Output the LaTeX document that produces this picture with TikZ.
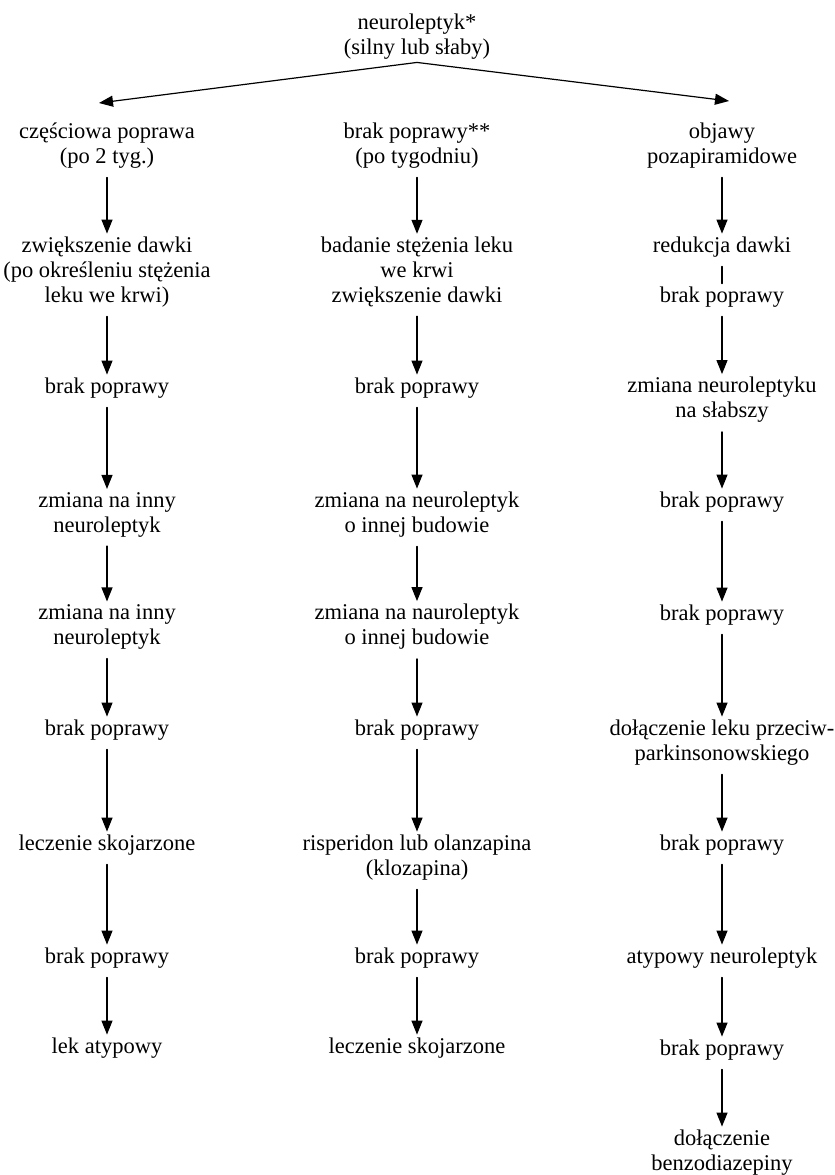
\documentclass[tikz,border=0pt]{standalone}
\usepackage{fontspec}
\setmainfont{Liberation Serif}
\usetikzlibrary{arrows.meta}
\begin{document}
\begin{tikzpicture}[x=1pt, y=-1pt, line cap=round, line join=round,
  txt/.style={align=center, inner xsep=2pt, inner ysep=3pt, font=\fontsize{22.5}{25}\selectfont},
  arr/.style={-{Triangle[width=11pt,length=14pt]}, line width=1.2pt, shorten <=6pt},
  bar/.style={line width=1.2pt, shorten <=6pt}]
  \useasboundingbox (0,0) rectangle (835,1175);
  \node[txt] (top) at (417,36.5) {neuroleptyk*\\(silny lub słaby)};
  \coordinate (apex) at (top.south);
  \coordinate (tipL) at (99,103);
  \coordinate (tipR) at (729,101);
  \draw[arr, shorten <=0pt] (apex) -- (tipL);
  \draw[arr, shorten <=0pt] (apex) -- (tipR);

  \node[txt] (l1) at (107,145.5) {częściowa poprawa\\(po 2 tyg.)};
  \node[txt] (l2) at (107,272) {zwiększenie dawki\\(po określeniu stężenia\\leku we krwi)};
  \node[txt] (l3) at (107,388) {brak poprawy};
  \node[txt] (l4) at (107,514.5) {zmiana na inny\\neuroleptyk};
  \node[txt] (l5) at (107,627) {zmiana na inny\\neuroleptyk};
  \node[txt] (l6) at (107,730) {brak poprawy};
  \node[txt] (l7) at (107,845) {leczenie skojarzone};
  \node[txt] (l8) at (107,958) {brak poprawy};
  \node[txt] (l9) at (107,1048) {lek atypowy};

  \node[txt] (m1) at (417,145.5) {brak poprawy**\\(po tygodniu)};
  \node[txt] (m2) at (417,272) {badanie stężenia leku\\we krwi\\zwiększenie dawki};
  \node[txt] (m3) at (417,388) {brak poprawy};
  \node[txt] (m4) at (417,514.5) {zmiana na neuroleptyk\\o innej budowie};
  \node[txt] (m5) at (417,627) {zmiana na nauroleptyk\\o innej budowie};
  \node[txt] (m6) at (417,730) {brak poprawy};
  \node[txt] (m7) at (417,857.5) {risperidon lub olanzapina\\(klozapina)};
  \node[txt] (m8) at (417,958) {brak poprawy};
  \node[txt] (m9) at (417,1048) {leczenie skojarzone};

  \node[txt] (r1) at (722,145.5) {objawy\\pozapiramidowe};
  \node[txt] (r2) at (722,247) {redukcja dawki};
  \node[txt] (r3) at (722,297) {brak poprawy};
  \node[txt] (r4) at (722,400) {zmiana neuroleptyku\\na słabszy};
  \node[txt] (r5) at (722,502) {brak poprawy};
  \node[txt] (r6) at (722,615) {brak poprawy};
  \node[txt] (r7) at (722,742.5) {dołączenie leku przeciw-\\parkinsonowskiego};
  \node[txt] (r8) at (722,845) {brak poprawy};
  \node[txt] (r9) at (722,958) {atypowy neuroleptyk};
  \node[txt] (r10) at (722,1050) {brak poprawy};
  \node[txt] (r11) at (722,1152.5) {dołączenie\\benzodiazepiny};

  \foreach \a/\b in {l1/l2,l2/l3,l3/l4,l4/l5,l5/l6,l6/l7,l7/l8,l8/l9,
                     m1/m2,m2/m3,m3/m4,m4/m5,m5/m6,m6/m7,m7/m8,m8/m9,
                     r1/r2,r3/r4,r4/r5,r5/r6,r6/r7,r7/r8,r8/r9,r9/r10,r10/r11}
    \draw[arr] (\a) -- (\b);
  \draw[bar] (r2) -- (r3);
\end{tikzpicture}
\end{document}
